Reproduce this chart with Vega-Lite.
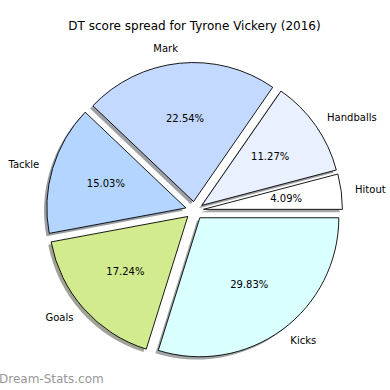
{
  "$schema": "https://vega.github.io/schema/vega-lite/v6.json",
  "width": 389,
  "height": 359,
  "autosize": {"type": "none"},
  "padding": {"top": 31, "left": 0, "right": 1, "bottom": 0},
  "title": {"text": "DT score spread for Tyrone Vickery (2016)", "font": "DejaVu Sans", "fontSize": 12, "fontWeight": "normal", "color": "#000000", "offset": -2, "anchor": "middle"},
  "config": {"view": {"stroke": null}, "font": "DejaVu Sans"},
  "layer": [
    {
      "data": {"values": [
        {"stat": "Hitout", "pct": 4.09},
        {"stat": "Handballs", "pct": 11.27},
        {"stat": "Mark", "pct": 22.54},
        {"stat": "Tackle", "pct": 15.03},
        {"stat": "Goals", "pct": 17.24},
        {"stat": "Kicks", "pct": 29.83}
      ]},
      "transform": [
        {"window": [{"op": "sum", "field": "pct", "as": "cum"}], "frame": [null, 0]},
        {"calculate": "datum.cum - datum.pct", "as": "start"},
        {"calculate": "datum.cum - datum.pct/2", "as": "cmid"},
        {"calculate": "2*PI*datum.cmid/100", "as": "mid"},
        {"calculate": "9*cos(datum.mid)", "as": "ox"},
        {"calculate": "-9*sin(datum.mid)", "as": "oy"},
        {"calculate": "datum.ox - 2.8", "as": "sox"},
        {"calculate": "datum.oy + 2.8", "as": "soy"},
        {"calculate": "format(datum.pct, '.2f') + '%'", "as": "label"}
      ],
      "layer": [
        {
          "mark": {"type": "arc", "outerRadius": 139, "opacity": 0.5, "strokeWidth": 0},
          "encoding": {
            "theta": {"field": "start", "type": "quantitative", "scale": {"domain": [0, 100], "range": [1.5707963, -4.712389]}},
            "theta2": {"field": "cum"},
            "fill": {"field": "stat", "type": "nominal", "legend": null, "scale": {"domain": ["Hitout", "Handballs", "Mark", "Tackle", "Goals", "Kicks"], "range": ["#4c4c4c", "#46484c", "#3b414c", "#36404c", "#3f462b", "#414c4c"]}},
            "xOffset": {"field": "sox", "type": "quantitative", "scale": null},
            "yOffset": {"field": "soy", "type": "quantitative", "scale": null}
          }
        },
        {
          "mark": {"type": "arc", "outerRadius": 139, "stroke": "#000000", "strokeWidth": 0.9, "strokeJoin": "round"},
          "encoding": {
            "theta": {"field": "start", "type": "quantitative", "scale": {"domain": [0, 100], "range": [1.5707963, -4.712389]}},
            "theta2": {"field": "cum"},
            "color": {"field": "stat", "type": "nominal", "legend": null, "scale": {"domain": ["Hitout", "Handballs", "Mark", "Tackle", "Goals", "Kicks"], "range": ["#ffffff", "#e9f0ff", "#c4d9ff", "#b3d5ff", "#d1eb8e", "#d9ffff"]}},
            "xOffset": {"field": "ox", "type": "quantitative", "scale": null},
            "yOffset": {"field": "oy", "type": "quantitative", "scale": null}
          }
        },
        {
          "mark": {"type": "text", "radius": 152.9, "fontSize": 10, "color": "#000000", "baseline": "middle", "align": {"expr": "datum.ox > 0 ? 'left' : 'right'"}},
          "encoding": {
            "theta": {"field": "cmid", "type": "quantitative", "scale": {"domain": [0, 100], "range": [1.5707963, -4.712389]}},
            "text": {"field": "stat", "type": "nominal"},
            "xOffset": {"field": "ox", "type": "quantitative", "scale": null},
            "yOffset": {"field": "oy", "type": "quantitative", "scale": null}
          }
        },
        {
          "mark": {"type": "text", "radius": 83.4, "fontSize": 10, "color": "#000000", "baseline": "middle", "align": "center"},
          "encoding": {
            "theta": {"field": "cmid", "type": "quantitative", "scale": {"domain": [0, 100], "range": [1.5707963, -4.712389]}},
            "text": {"field": "label", "type": "nominal"},
            "xOffset": {"field": "ox", "type": "quantitative", "scale": null},
            "yOffset": {"field": "oy", "type": "quantitative", "scale": null}
          }
        }
      ]
    },
    {
      "data": {"values": [{"site": "Dream-Stats.com"}]},
      "mark": {"type": "text", "x": -1, "y": 352, "align": "left", "baseline": "alphabetic", "fontSize": 12, "color": "#999999"},
      "encoding": {"text": {"field": "site", "type": "nominal"}}
    }
  ]
}
